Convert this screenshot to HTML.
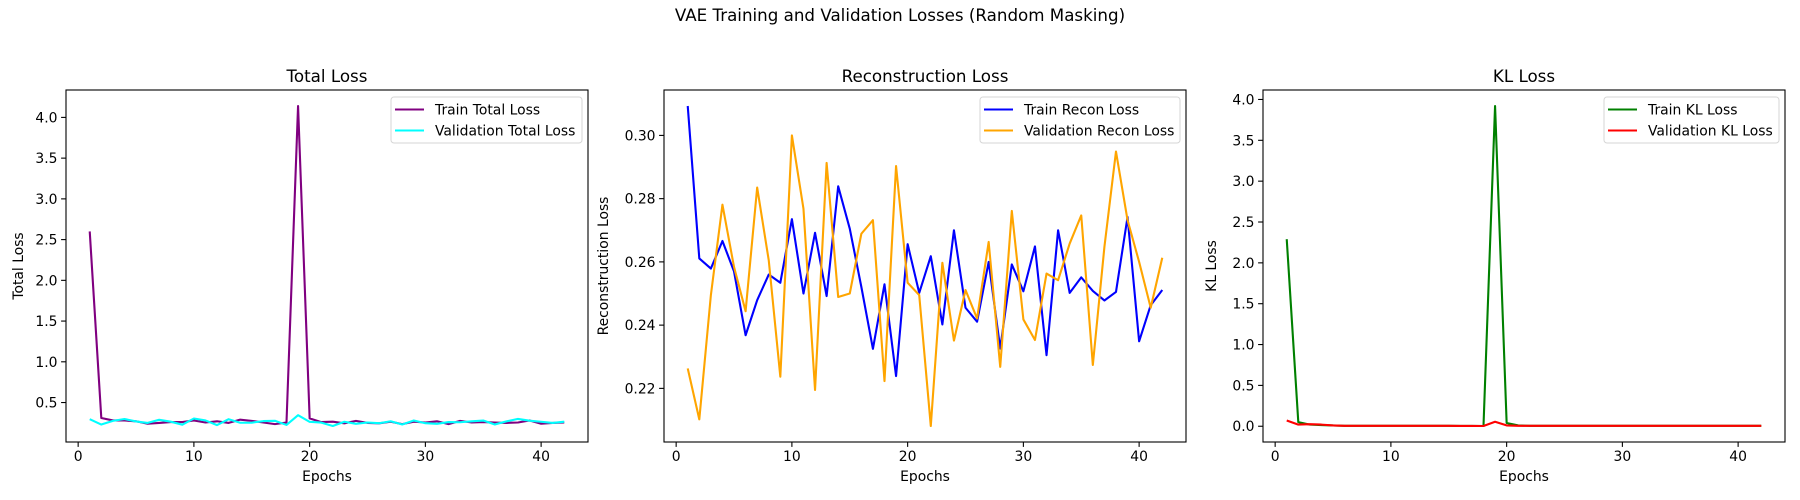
<!DOCTYPE html>
<html><head><meta charset="utf-8"><style>
html,body{margin:0;padding:0;background:#fff;}
svg{display:block;font-family:"DejaVu Sans","Liberation Sans",sans-serif;}
</style></head>
<body>
<svg id="fig" width="1800" height="500" viewBox="0 0 1800 500" xmlns="http://www.w3.org/2000/svg">
<rect width="1800" height="500" fill="#fff"/>
<text x="900" y="21" text-anchor="middle" font-size="16.7" fill="#000">VAE Training and Validation Losses (Random Masking)</text>
</svg>
<script>
const epochs = [1,2,3,4,5,6,7,8,9,10,11,12,13,14,15,16,17,18,19,20,21,22,23,24,25,26,27,28,29,30,31,32,33,34,35,36,37,38,39,40,41,42];
const trainTotal = [2.60,0.31,0.28,0.28,0.27,0.24,0.25,0.26,0.26,0.28,0.255,0.27,0.25,0.29,0.275,0.255,0.235,0.255,4.14,0.305,0.26,0.265,0.245,0.275,0.25,0.245,0.265,0.235,0.265,0.255,0.27,0.235,0.275,0.255,0.26,0.255,0.25,0.255,0.28,0.24,0.25,0.255];
const valTotal = [0.296,0.23,0.275,0.298,0.268,0.25,0.288,0.265,0.228,0.304,0.28,0.223,0.295,0.252,0.253,0.272,0.276,0.225,0.345,0.263,0.254,0.212,0.264,0.239,0.255,0.246,0.27,0.231,0.28,0.246,0.239,0.26,0.258,0.27,0.279,0.231,0.269,0.299,0.277,0.264,0.25,0.265];
const trainRecon = [0.3093,0.2611,0.2579,0.2666,0.257,0.2368,0.2479,0.2560,0.2534,0.2735,0.2500,0.2692,0.2492,0.2839,0.2705,0.2521,0.2325,0.2529,0.2239,0.2656,0.2502,0.2618,0.2402,0.2700,0.2455,0.2411,0.2600,0.2326,0.2592,0.2507,0.2649,0.2305,0.2700,0.2502,0.2551,0.2508,0.2478,0.2505,0.2742,0.2349,0.2463,0.2511];
const valRecon = [0.2263,0.2102,0.2495,0.2781,0.2584,0.2444,0.2835,0.2605,0.2237,0.3000,0.2768,0.2195,0.2913,0.2489,0.2500,0.2689,0.2732,0.2223,0.2903,0.2534,0.2495,0.2081,0.2597,0.2351,0.2511,0.2421,0.2663,0.2268,0.2761,0.2418,0.2353,0.2563,0.2542,0.2658,0.2747,0.2274,0.2647,0.2949,0.2732,0.2600,0.2455,0.2613];
const trainKL = [2.29,0.05,0.02,0.015,0.01,0.005,0.005,0.005,0.005,0.005,0.005,0.005,0.005,0.005,0.005,0.004,0.004,0.003,3.92,0.04,0.01,0.005,0.005,0.005,0.005,0.005,0.005,0.005,0.005,0.005,0.005,0.005,0.005,0.005,0.005,0.005,0.005,0.005,0.005,0.005,0.005,0.005];
const valKL = [0.07,0.02,0.025,0.02,0.01,0.005,0.005,0.005,0.005,0.005,0.005,0.005,0.005,0.005,0.005,0.004,0.004,0.003,0.055,0.01,0.005,0.005,0.005,0.005,0.005,0.005,0.005,0.005,0.005,0.005,0.005,0.005,0.005,0.005,0.005,0.005,0.005,0.005,0.005,0.005,0.005,0.005];
const xTicks = [0,10,20,30,40];
const ticksTotal = [0.5,1.0,1.5,2.0,2.5,3.0,3.5,4.0];
const ticksRecon = [0.22,0.24,0.26,0.28,0.30];
const ticksKL = [0.0,0.5,1.0,1.5,2.0,2.5,3.0,3.5,4.0];

const NS = "http://www.w3.org/2000/svg";
const svg = document.getElementById('fig');
function mk(tag, attrs, parent){
  const e = document.createElementNS(NS, tag);
  for (const k in attrs) e.setAttribute(k, attrs[k]);
  (parent||svg).appendChild(e);
  return e;
}
function panel(cfg){
  const L=cfg.left, R=cfg.left+522, T=90, B=442;
  const g = mk('g', {});
  
  
  const allv = [].concat(...cfg.series.map(s=>s.data));
  const mn = Math.min(...allv), mx = Math.max(...allv);
  const pad = (mx-mn)*0.05;
  const y0 = mn-pad, y1 = mx+pad;
  const ex0 = Math.min(...epochs), ex1 = Math.max(...epochs);
  const xp = (ex1-ex0)*0.05;
  const X = v => L + (v-(ex0-xp))/((ex1+xp)-(ex0-xp))*(R-L);
  const Y = v => B - (v-y0)/(y1-y0)*(B-T);
  // title
  const t = mk('text', {x:(L+R)/2, y:82, 'text-anchor':'middle', 'font-size':16.7, fill:'#000'}, g);
  t.textContent = cfg.title;
  
  
  // series
  cfg.series.forEach(s=>{
    const d = s.data.map((v,i)=>(i?'L':'M')+X(epochs[i]).toFixed(2)+','+Y(v).toFixed(2)).join(' ');
    const p = mk('path', {d:d, fill:'none', stroke:s.color, 'stroke-width':2.1, 'stroke-linejoin':'round'}, g);
    
    
  });
  // frame
  const fr = mk('rect', {x:L, y:T, width:R-L, height:B-T, fill:'none', stroke:'#000', 'stroke-width':1.1}, g);
  
  
  // x ticks
  xTicks.forEach(v=>{
    const x = X(v);
    mk('line', {x1:x, x2:x, y1:B, y2:B+4.9, stroke:'#000', 'stroke-width':1.1}, g);
    const tx = mk('text', {x:x, y:B+19, 'text-anchor':'middle', 'font-size':13.9, fill:'#000'}, g);
    tx.textContent = v;
    
    
  });
  cfg.yTicks.forEach(v=>{
    const y = Y(v);
    mk('line', {x1:L-4.9, x2:L, y1:y, y2:y, stroke:'#000', 'stroke-width':1.1}, g);
    const ty = mk('text', {x:L-8.5, y:y+5, 'text-anchor':'end', 'font-size':13.9, fill:'#000'}, g);
    ty.textContent = v.toFixed(cfg.dec);
    
    
  });
  const xl = mk('text', {x:(L+R)/2, y:481, 'text-anchor':'middle', 'font-size':13.9, fill:'#000'}, g);
  xl.textContent = 'Epochs';
  
  
  const yl = mk('text', {x:0, y:0, 'text-anchor':'middle', 'font-size':13.9, fill:'#000', transform:`translate(${cfg.ylabelX},${(T+B)/2}) rotate(-90)`}, g);
  yl.textContent = cfg.ylabel;
  
  
  // legend
  const lg = mk('g', {}, g);
  
  
  mk('rect', {x:cfg.legX, y:97, width:R-6-cfg.legX, height:46, rx:3, fill:'#fff', 'fill-opacity':0.8, stroke:'#d6d6d6', 'stroke-width':1}, lg);
  cfg.series.forEach((s,i)=>{
    const yy = 109.5 + i*21;
    const ln = mk('line', {x1:cfg.legX+4, x2:cfg.legX+33, y1:yy, y2:yy, stroke:s.color, 'stroke-width':2.1}, lg);
    
    
    const lt = mk('text', {x:cfg.legX+44, y:yy+5, 'font-size':13.9, fill:'#000'}, lg);
    lt.textContent = s.label;
    
    
  });
}
panel({name:'total-loss-panel', left:66, title:'Total Loss', ylabel:'Total Loss', ylabelX:23, yTicks:ticksTotal, dec:1, legX:391,
  series:[{id:'train-total-line',label:'Train Total Loss',color:'#800080',data:trainTotal},{id:'val-total-line',label:'Validation Total Loss',color:'#00ffff',data:valTotal}]});
panel({name:'recon-loss-panel', left:664, title:'Reconstruction Loss', ylabel:'Reconstruction Loss', ylabelX:608, yTicks:ticksRecon, dec:2, legX:980,
  series:[{id:'train-recon-line',label:'Train Recon Loss',color:'#0000ff',data:trainRecon},{id:'val-recon-line',label:'Validation Recon Loss',color:'#ffa500',data:valRecon}]});
panel({name:'kl-loss-panel', left:1263, title:'KL Loss', ylabel:'KL Loss', ylabelX:1216, yTicks:ticksKL, dec:1, legX:1604,
  series:[{id:'train-kl-line',label:'Train KL Loss',color:'#008000',data:trainKL},{id:'val-kl-line',label:'Validation KL Loss',color:'#ff0000',data:valKL}]});
</script>
</body></html>
